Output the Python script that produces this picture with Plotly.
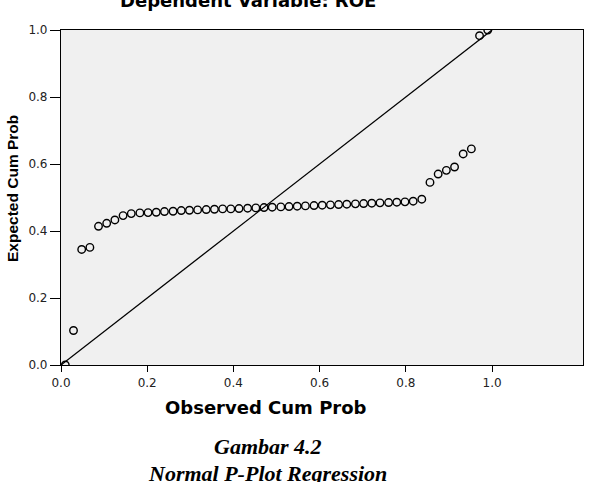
import plotly.graph_objects as go

# Observed cumulative probability (x) and expected cumulative probability (y)
observed = [0.010, 0.029, 0.048, 0.067, 0.087, 0.106, 0.125, 0.144, 0.163, 0.183,
            0.202, 0.221, 0.240, 0.260, 0.279, 0.298, 0.317, 0.337, 0.356, 0.375,
            0.394, 0.413, 0.433, 0.452, 0.471, 0.490, 0.510, 0.529, 0.548, 0.567,
            0.587, 0.606, 0.625, 0.644, 0.663, 0.683, 0.702, 0.721, 0.740, 0.760,
            0.779, 0.798, 0.817, 0.837, 0.856, 0.875, 0.894, 0.913, 0.933, 0.952,
            0.971, 0.990]
expected = [0.000, 0.103, 0.345, 0.351, 0.414, 0.423, 0.433, 0.446, 0.452, 0.454,
            0.455, 0.456, 0.458, 0.459, 0.461, 0.462, 0.463, 0.464, 0.465, 0.466,
            0.466, 0.467, 0.468, 0.469, 0.470, 0.471, 0.472, 0.473, 0.474, 0.475,
            0.476, 0.477, 0.478, 0.479, 0.480, 0.481, 0.482, 0.483, 0.484, 0.485,
            0.486, 0.487, 0.489, 0.495, 0.545, 0.570, 0.581, 0.591, 0.630, 0.645,
            0.983, 1.000]
ref_line = [0.0, 1.0]
tick_vals = [0.0, 0.2, 0.4, 0.6, 0.8, 1.0]
tick_text = ["0.0", "0.2", "0.4", "0.6", "0.8", "1.0"]

W, H = 589, 482
L, R, T, B = 61, 6, 30, 117
PW, PH = W - L - R, H - T - B


def px(x):
    return (x - L) / PW


def py(y):
    return (H - B - y) / PH


fig = go.Figure()
fig.add_trace(go.Scatter(x=ref_line, y=ref_line, mode="lines",
                         line=dict(color="black", width=1.3),
                         hoverinfo="skip", showlegend=False))
fig.add_trace(go.Scatter(x=observed, y=expected, mode="markers",
                         marker=dict(symbol="circle-open", size=7.5, color="black",
                                     line=dict(width=1.4, color="black")),
                         showlegend=False))

tick_font = dict(family="DejaVu Sans", size=12, color="#222")
fig.update_xaxes(range=[0, 1.211], tickvals=tick_vals, ticktext=tick_text,
                 ticks="outside", ticklen=6, tickwidth=1.2, tickcolor="black",
                 showline=True, linecolor="black", linewidth=1.2, mirror=True,
                 showgrid=False, zeroline=False, tickfont=tick_font)
fig.update_yaxes(range=[0, 1], tickvals=tick_vals, ticktext=tick_text,
                 ticks="outside", ticklen=10, tickwidth=1.2, tickcolor="black",
                 showline=True, linecolor="black", linewidth=1.2, mirror=True,
                 showgrid=False, zeroline=False, tickfont=tick_font)

annotations = [
    dict(text="<b>Dependent Variable: ROE</b>", x=px(248), y=py(0.8),
         font=dict(family="DejaVu Sans", size=18, color="black")),
    dict(text="<b>Observed Cum Prob</b>", x=px(265.5), y=py(407.8),
         font=dict(family="DejaVu Sans", size=18, color="black")),
    dict(text="<b>Expected Cum Prob</b>", x=px(12.5), y=py(188.5), textangle=-90,
         font=dict(family="Liberation Sans", size=15.5, color="black")),
    dict(text="<b><i>Gambar 4.2</i></b>", x=px(268), y=py(446.3),
         font=dict(family="Liberation Serif", size=22, color="black")),
    dict(text="<b><i>Normal P-Plot Regression</i></b>", x=px(267.5), y=py(473),
         font=dict(family="Liberation Serif", size=22, color="black")),
]
for a in annotations:
    fig.add_annotation(xref="paper", yref="paper", showarrow=False,
                       xanchor="center", yanchor="middle", **a)

fig.update_layout(width=W, height=H, margin=dict(l=L, r=R, t=T, b=B),
                  plot_bgcolor="#f0f0f0", paper_bgcolor="white")

fig.write_html("out.html")
